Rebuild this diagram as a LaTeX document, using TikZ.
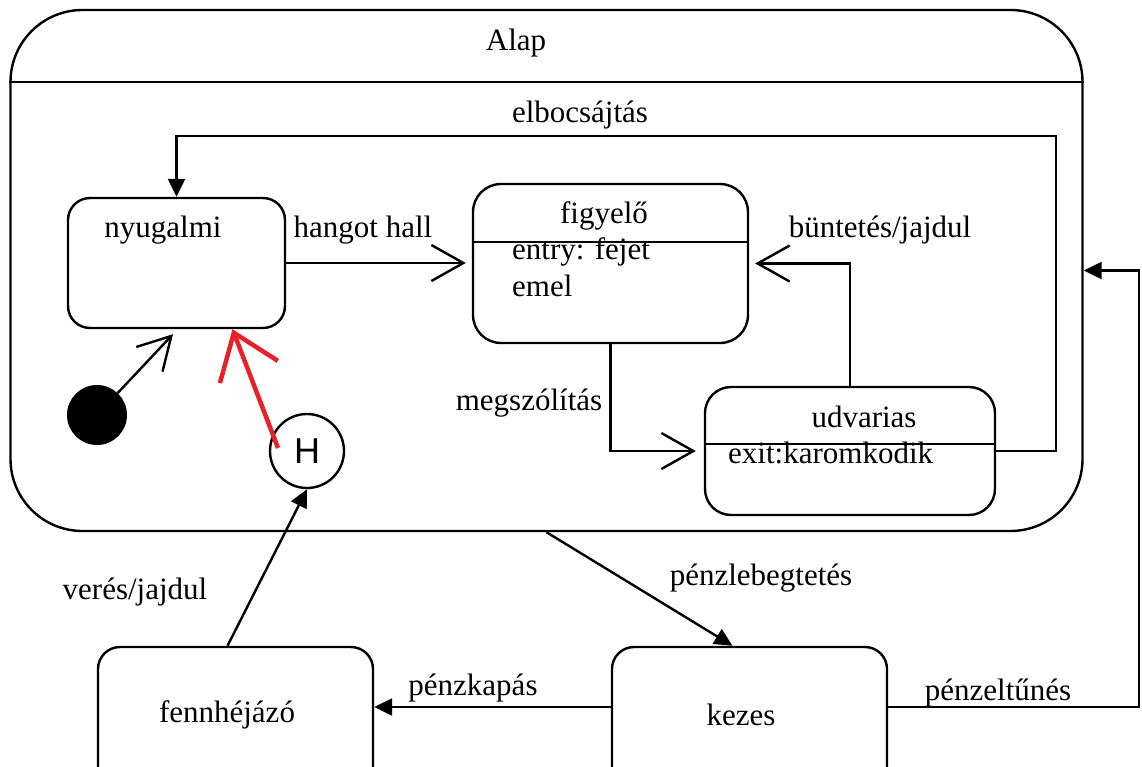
\documentclass[tikz,border=0pt]{standalone}
\usepackage{fontspec}
\setmainfont{Liberation Serif}
\newfontfamily\histfont{Liberation Sans}
\usetikzlibrary{arrows.meta}
\definecolor{penred}{RGB}{232,32,40}
\tikzstyle{state} = [rectangle, rounded corners=22pt, draw=black, line width=2.4pt]
\tikzstyle{title} = [inner sep=0pt]
\tikzstyle{flow} = [line width=2.4pt, -{Straight Barb[length=32pt,width=36pt]}]
\tikzstyle{event} = [line width=2.4pt, -{Triangle[length=18pt,width=17pt]}]

\begin{document}
\begin{tikzpicture}
[x=1pt, y=-1pt, every node/.append style={font=\fontsize{31}{37}\selectfont}]

\useasboundingbox (0,0) rectangle (1142,767);
\clip (0,0) rectangle (1142,767);

\node (alap) [state, rounded corners=72pt, minimum width=1072pt, minimum height=521pt] at (546.5,270.5) {};
\node (alapT) [title] at (516,43) {Alap};
\coordinate (alapDiv) at (0,82);
\draw [line width=2.4pt] (alap.west |- alapDiv) -- (alap.east |- alapDiv);

\node (nyug) [state, minimum width=217pt, minimum height=130pt] at (176.5,263) {};
\node (nyugT) [title] at (163,230) {nyugalmi};

\node (fig) [state, rounded corners=28pt, minimum width=275pt, minimum height=159pt] at (610.5,263.5) {};
\node (figT) [title] at (604,216) {figyelő};
\coordinate (figDiv) at (0,242);
\draw [line width=2.4pt] (fig.west |- figDiv) -- (fig.east |- figDiv);
\node (figE) [title, anchor=west, align=left] at (512,267) {entry: fejet\\emel};

\node (udv) [state, rounded corners=26pt, minimum width=290pt, minimum height=128pt] at (850,451) {};
\node (udvT) [title] at (864,417) {udvarias};
\coordinate (udvDiv) at (0,444);
\draw [line width=2.4pt] (udv.west |- udvDiv) -- (udv.east |- udvDiv);
\node (udvE) [title, anchor=west] at (728,453) {exit:karomkodik};

\node (init) [circle, fill=black, minimum size=60pt, inner sep=0pt] at (97,415) {};
\node (hist) [circle, draw, line width=2.4pt, minimum size=74pt, inner sep=0pt, font=\histfont\fontsize{36}{36}\selectfont] at (307,451) {H};

\node (fenn) [state, minimum width=275pt, minimum height=143pt] at (235.5,718.5) {};
\node (fennT) [title] at (227,715) {fennhéjázó};
\node (kezes) [state, minimum width=275pt, minimum height=143pt] at (749.5,718.5) {};
\node (kezesT) [title] at (741,715) {kezes};

\draw [flow] (init) -- ([xshift=-3.5pt,yshift=-5pt]nyug.south);
\draw [flow, shorten >=6pt] (nyug.east) -- (nyug.east -| fig.west);
\node (hangT) [title] at (363,230) {hangot hall};
\draw [flow, shorten >=8pt] (fig.south) |- (udv.west);
\node (megT) [title] at (529,403) {megszólítás};
\draw [flow, shorten >=6pt] (udv.north) |- (fig.east);
\node (buntT) [title] at (880,230) {büntetés/jajdul};

\coordinate (elbR) at (1056,136);
\draw [event] (udv.east) -| (elbR) -| (nyug.north);
\node (elbT) [title] at (580,115) {elbocsájtás};

\draw [penred, line width=4.5pt, -{Straight Barb[length=42pt,width=62pt]}] ([xshift=-29pt,yshift=3pt]hist.center) -- ([xshift=56pt]nyug.south);

\draw [event] ([xshift=-8pt]fenn.north) -- (hist.south);
\node (veresT) [title] at (135,592) {verés/jajdul};
\draw [event] (alap.south) -- ([xshift=-17pt]kezes.north);
\node (lebT) [title] at (761,578) {pénzlebegtetés};
\draw [event] ([yshift=11.5pt]kezes.west) -- ([yshift=11.5pt]fenn.east);
\node (kapT) [title] at (473,688) {pénzkapás};
\coordinate (pzR) at (1139,270.5);
\draw [event] ([yshift=11.5pt]kezes.east) -| (pzR) -- (alap.east);
\node (eltT) [title] at (998,693) {pénzeltűnés};

\end{tikzpicture}
\end{document}
